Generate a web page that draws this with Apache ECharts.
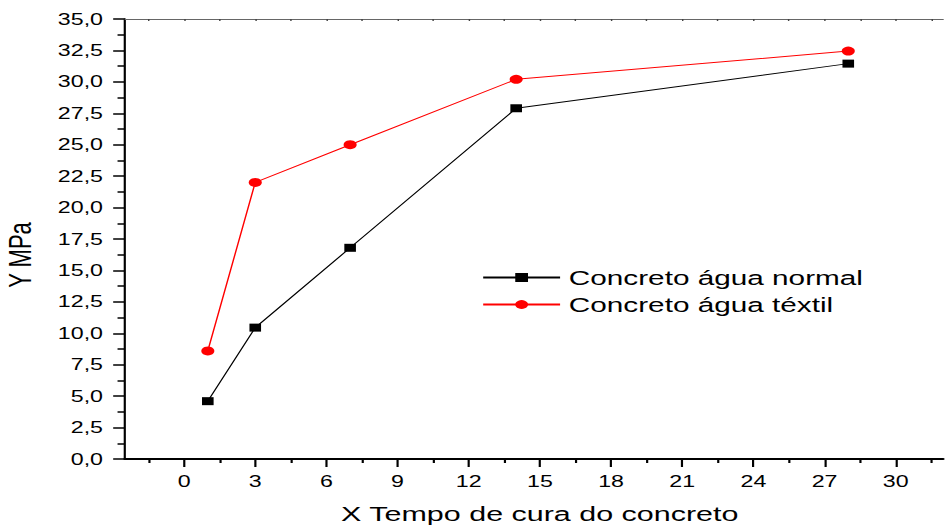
<!DOCTYPE html>
<html>
<head>
    <meta charset="utf-8">
    <script src="https://cdn.jsdelivr.net/npm/echarts@6/dist/echarts.min.js"></script>
    <style>
html, body { margin: 0; padding: 0; overflow: hidden; background: #fff; }
/* the original picture is stretched sideways, so draw narrow and scale */
#main { width: 652px; height: 528px; transform: scaleX(1.451); transform-origin: 0 0; }
    </style>
</head>
<body>
    <div id="main"></div>
    <script type="text/javascript">
var days = [1, 3, 7, 14, 28];
var aguaNormal = [4.6, 10.45, 16.8, 27.9, 31.45];
var aguaTextil = [8.6, 22.0, 25.0, 30.2, 32.45];
var xMajorTicks = [0, 3, 6, 9, 12, 15, 18, 21, 24, 27, 30];
var xMinorTicks = [-1.5, 1.5, 4.5, 7.5, 10.5, 13.5, 16.5, 19.5, 22.5, 25.5, 28.5, 31.5];
var xTopTicks = xMinorTicks.concat(xMajorTicks);

var font = 'Arial, "Liberation Sans", sans-serif';

function pairs(xs, ys) {
    return xs.map(function (x, i) { return [x, ys[i]]; });
}

var option = {
    animation: false,
    grid: { left: 86, right: 2, top: 19, bottom: 69, outerBoundsMode: 'none' },
    legend: {
        orient: 'vertical',
        left: 327,
        top: 262,
        itemWidth: 53,
        itemHeight: 11,
        itemGap: 6,
        textStyle: { fontFamily: font, fontSize: 20.5, color: '#000', padding: [0, 0, 0, 1] },
        data: ['Concreto água normal', 'Concreto água téxtil']
    },
    xAxis: [
        {
            type: 'value', min: -2.5, max: 32,
            name: 'X Tempo de cura do concreto',
            nameLocation: 'middle', nameGap: 44,
            nameTextStyle: { fontFamily: font, fontSize: 21, color: '#000', padding: [0, 0, 0, 8] },
            axisLine: { show: true, onZero: false, lineStyle: { color: '#000', width: 2 } },
            axisTick: { show: true, length: 8, customValues: xMajorTicks, lineStyle: { color: '#000', width: 1.5 } },
            axisLabel: { customValues: xMajorTicks, margin: 14, fontFamily: font, fontSize: 16, color: '#000' },
            splitLine: { show: false }
        },
        {
            type: 'value', min: -2.5, max: 32, position: 'bottom',
            axisLine: { show: false },
            axisTick: { show: true, length: 4, customValues: xMinorTicks, lineStyle: { color: '#000', width: 1.5 } },
            axisLabel: { show: false },
            splitLine: { show: false }
        },
        {
            type: 'value', min: -2.5, max: 32, position: 'top',
            axisLine: { show: true, onZero: false, lineStyle: { color: '#666', width: 1 } },
            axisTick: { show: true, inside: true, length: 2, customValues: xTopTicks, lineStyle: { color: '#444' } },
            axisLabel: { show: false },
            splitLine: { show: false }
        }
    ],
    yAxis: {
        type: 'value', min: 0, max: 35, interval: 2.5,
        name: 'Y MPa',
        nameLocation: 'middle', nameGap: 61,
        nameTextStyle: { fontFamily: font, fontSize: 22, color: '#000', padding: [0, 32, 0, 0] },
        axisLine: { show: true, onZero: false, lineStyle: { color: '#000', width: 1.5 } },
        axisTick: { show: true, length: 8, lineStyle: { color: '#000', width: 1.5 } },
        minorTick: { show: true, splitNumber: 2, length: 5, lineStyle: { color: '#000', width: 1.5 } },
        axisLabel: {
            margin: 15, fontFamily: font, fontSize: 16, color: '#000',
            formatter: function (v) { return v.toFixed(1).replace('.', ','); }
        },
        splitLine: { show: false }
    },
    series: [
        {
            name: 'Concreto água normal',
            type: 'line',
            xAxisIndex: 0,
            data: pairs(days, aguaNormal),
            symbol: 'rect',
            symbolSize: 8,
            itemStyle: { color: '#000' },
            lineStyle: { color: '#000', width: 1 }
        },
        {
            name: 'Concreto água téxtil',
            type: 'line',
            xAxisIndex: 0,
            data: pairs(days, aguaTextil),
            symbol: 'circle',
            symbolSize: 9,
            itemStyle: { color: '#ff0000' },
            lineStyle: { color: '#ff0000', width: 1 }
        }
    ]
};

var chart = echarts.init(document.getElementById('main'), null, { renderer: 'svg' });
chart.setOption(option);
    </script>
</body>
</html>
